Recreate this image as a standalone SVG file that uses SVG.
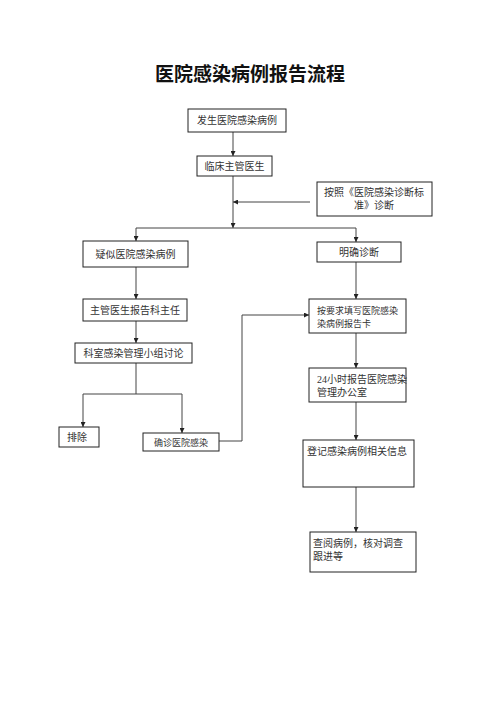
<svg xmlns="http://www.w3.org/2000/svg" width="500" height="708" viewBox="0 0 500 708">
<style>
.box{fill:#fff;stroke:#222;stroke-width:1}
.t{font-family:"Liberation Serif","Noto Sans CJK SC",serif;font-size:10px;fill:#333}
.s{font-size:9px}
.c{text-anchor:middle}
.title{font-family:"Noto Sans CJK SC",sans-serif;font-size:19px;font-weight:bold;fill:#111;text-anchor:middle}
.ln{fill:none;stroke:#444;stroke-width:1}
</style>
<defs>
<marker id="ah" viewBox="0 0 8 8" refX="8" refY="4" markerWidth="5" markerHeight="5" orient="auto" markerUnits="userSpaceOnUse">
<path d="M0,0 L8,4 L0,8 Z" fill="#222"/>
</marker>
</defs>
<rect width="500" height="708" fill="#fff"/>
<text class="title" x="250" y="81">医院感染病例报告流程</text>

<g id="connectors">
<line class="ln" x1="233" y1="132" x2="233" y2="156" marker-end="url(#ah)"/>
<line class="ln" x1="233" y1="176" x2="233" y2="228" marker-end="url(#ah)"/>
<line class="ln" x1="310" y1="202" x2="233" y2="202" marker-end="url(#ah)"/>
<line class="ln" x1="136" y1="228" x2="356" y2="228"/>
<line class="ln" x1="136" y1="228" x2="136" y2="241" marker-end="url(#ah)"/>
<line class="ln" x1="356" y1="228" x2="356" y2="242" marker-end="url(#ah)"/>
<line class="ln" x1="136" y1="267" x2="136" y2="299" marker-end="url(#ah)"/>
<line class="ln" x1="136" y1="321" x2="136" y2="343" marker-end="url(#ah)"/>
<line class="ln" x1="136" y1="363" x2="136" y2="394"/>
<line class="ln" x1="83" y1="394" x2="182" y2="394"/>
<line class="ln" x1="83" y1="394" x2="83" y2="427" marker-end="url(#ah)"/>
<line class="ln" x1="182" y1="394" x2="182" y2="433" marker-end="url(#ah)"/>
<polyline class="ln" points="219,441 242,441 242,315 309,315" marker-end="url(#ah)"/>
<line class="ln" x1="356" y1="262" x2="356" y2="299" marker-end="url(#ah)"/>
<line class="ln" x1="356" y1="333" x2="356" y2="368" marker-end="url(#ah)"/>
<line class="ln" x1="356" y1="402" x2="356" y2="440" marker-end="url(#ah)"/>
<line class="ln" x1="356" y1="487" x2="356" y2="532" marker-end="url(#ah)"/>
</g>

<g id="n1"><rect class="box" x="188" y="109" width="98" height="23"/><text class="t c" x="237" y="124">发生医院感染病例</text></g>
<g id="n2"><rect class="box" x="197" y="156" width="75" height="20"/><text class="t c" x="234.5" y="170">临床主管医生</text></g>
<g id="n3"><rect class="box" x="317" y="182" width="115" height="34"/><text class="t c" x="374" y="196">按照《医院感染诊断标</text><text class="t c" x="374" y="209">准》诊断</text></g>
<g id="n4"><rect class="box" x="83" y="241" width="105" height="26"/><text class="t c" x="135.5" y="258">疑似医院感染病例</text></g>
<g id="n5"><rect class="box" x="317" y="242" width="84" height="20"/><text class="t c" x="359" y="256">明确诊断</text></g>
<g id="n6"><rect class="box" x="83" y="299" width="104" height="22"/><text class="t c" x="135" y="314">主管医生报告科主任</text></g>
<g id="n7"><rect class="box" x="75" y="343" width="117" height="20"/><text class="t c" x="133.5" y="357">科室感染管理小组讨论</text></g>
<g id="n8"><rect class="box" x="59" y="427" width="40" height="20"/><text class="t" x="67" y="441">排除</text></g>
<g id="n9"><rect class="box" x="143" y="433" width="76" height="18"/><text class="t c s" x="181" y="445.5">确诊医院感染</text></g>
<g id="n10"><rect class="box" x="309" y="299" width="97" height="34"/><text class="t s" x="317" y="314">按要求填写医院感染</text><text class="t s" x="317" y="327">染病例报告卡</text></g>
<g id="n11"><rect class="box" x="309" y="368" width="97" height="34"/><text class="t" x="317" y="383">24小时报告医院感染</text><text class="t" x="317" y="396">管理办公室</text></g>
<g id="n12"><rect class="box" x="303" y="440" width="111" height="47"/><text class="t" x="307" y="455">登记感染病例相关信息</text></g>
<g id="n13"><rect class="box" x="310" y="532" width="106" height="40"/><text class="t" x="313" y="547">查阅病例，核对调查</text><text class="t" x="313" y="560">跟进等</text></g>
</svg>
